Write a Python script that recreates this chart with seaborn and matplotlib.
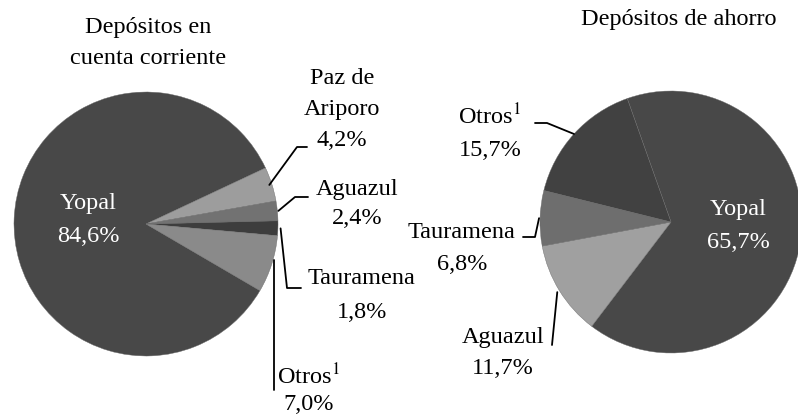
import matplotlib
matplotlib.use("Agg")
import matplotlib.pyplot as plt
import seaborn as sns
import numpy as np

# data
cc_labels = ["Yopal", "Paz de\nAriporo", "Aguazul", "Tauramena", "Otros$^1$"]
cc_values = [84.6, 4.2, 2.4, 1.8, 7.0]
cc_colors = ["#484848", "#9d9d9d", "#727272", "#3d3d3d", "#8a8a8a"]

ah_labels = ["Yopal", "Aguazul", "Tauramena", "Otros$^1$"]
ah_values = [65.7, 11.7, 6.8, 15.7]
ah_colors = ["#484848", "#a0a0a0", "#6e6e6e", "#414141"]

W, H = 798, 416

sns.set_theme(style="white")
plt.rcParams["font.family"] = ["Liberation Serif", "DejaVu Serif"]
plt.rcParams["mathtext.fontset"] = "stix"


def fmt(v):
    return f"{v:.1f}%".replace(".", ",")


def py(y):
    # pixel row (from top) -> data y
    return H - y


fig = plt.figure(figsize=(W / 100, H / 100), dpi=100)
ax = fig.add_axes([0, 0, 1, 1])

c1, r1 = (146, py(224)), 132
c2, r2 = (671, py(222)), 131

w1, _ = ax.pie(cc_values, colors=cc_colors, startangle=-30.3, counterclock=False,
               center=c1, radius=r1, wedgeprops=dict(edgecolor="#6a6a6a", linewidth=0.3))
w2, _ = ax.pie(ah_values, colors=ah_colors, startangle=109.5, counterclock=False,
               center=c2, radius=r2, wedgeprops=dict(edgecolor="#6a6a6a", linewidth=0.3))

ax.set_xlim(0, W)
ax.set_ylim(0, H)
ax.set_aspect("equal")
ax.axis("off")


def edge(w, frac, c, r, k=1.0):
    a = np.deg2rad(w.theta1 + frac * (w.theta2 - w.theta1))
    return c[0] + k * r * np.cos(a), c[1] + k * r * np.sin(a)


fs = 17.5


def lines(x, ys, texts, color="black", ha="center"):
    for y, t in zip(ys, texts):
        ax.text(x, py(y), t, ha=ha, va="center", fontsize=fs, color=color)


lkw = dict(color="black", lw=1.3)

# titles
lines(148, [28, 59], ["Depósitos en", "cuenta corriente"])
lines(679, [19], ["Depósitos de ahorro"])

# left pie labels
lines(88, [203, 237], [cc_labels[0], fmt(cc_values[0])], color="white")

lines(342, [78, 110, 141], cc_labels[1].split("\n") + [fmt(cc_values[1])])
x0, y0 = edge(w1[1], 0.5, c1, r1, 0.98)
ax.plot([x0, 297, 307], [y0, py(147), py(147)], **lkw)

lines(357, [190, 218], [cc_labels[2], fmt(cc_values[2])])
x0, y0 = edge(w1[2], 0.5, c1, r1, 1.0)
ax.plot([x0 + 1, 295, 308], [y0, py(197), py(197)], **lkw)

lines(362, [278, 313], [cc_labels[3], fmt(cc_values[3])])
x0, y0 = edge(w1[3], 0.5, c1, r1, 1.02)
ax.plot([x0, 287, 301], [y0, py(288), py(288)], **lkw)

lines(277, [377], [cc_labels[4]], ha="left")
lines(309, [404], [fmt(cc_values[4])])
x0, y0 = edge(w1[4], 0.6, c1, r1, 1.03)
ax.plot([274, 274], [y0, py(390)], **lkw)

# right pie labels
lines(738, [210, 243], [ah_labels[0], fmt(ah_values[0])], color="white")

lines(490, [117, 150], [ah_labels[3], fmt(ah_values[3])])
x0, y0 = edge(w2[3], 0.5, c2, r2, 1.0)
ax.plot([x0, 547, 535], [y0, py(123), py(123)], **lkw)

lines(462, [232, 265], [ah_labels[2], fmt(ah_values[2])])
x0, y0 = edge(w2[2], 0.5, c2, r2, 1.0)
ax.plot([x0 - 1, 535, 523], [y0, py(237), py(237)], **lkw)

lines(503, [337, 368], [ah_labels[1], fmt(ah_values[1])])
x0, y0 = edge(w2[1], 0.5, c2, r2, 1.02)
ax.plot([x0, 552], [y0, py(345)], **lkw)

fig.savefig("out.png", dpi=100, facecolor="white")
